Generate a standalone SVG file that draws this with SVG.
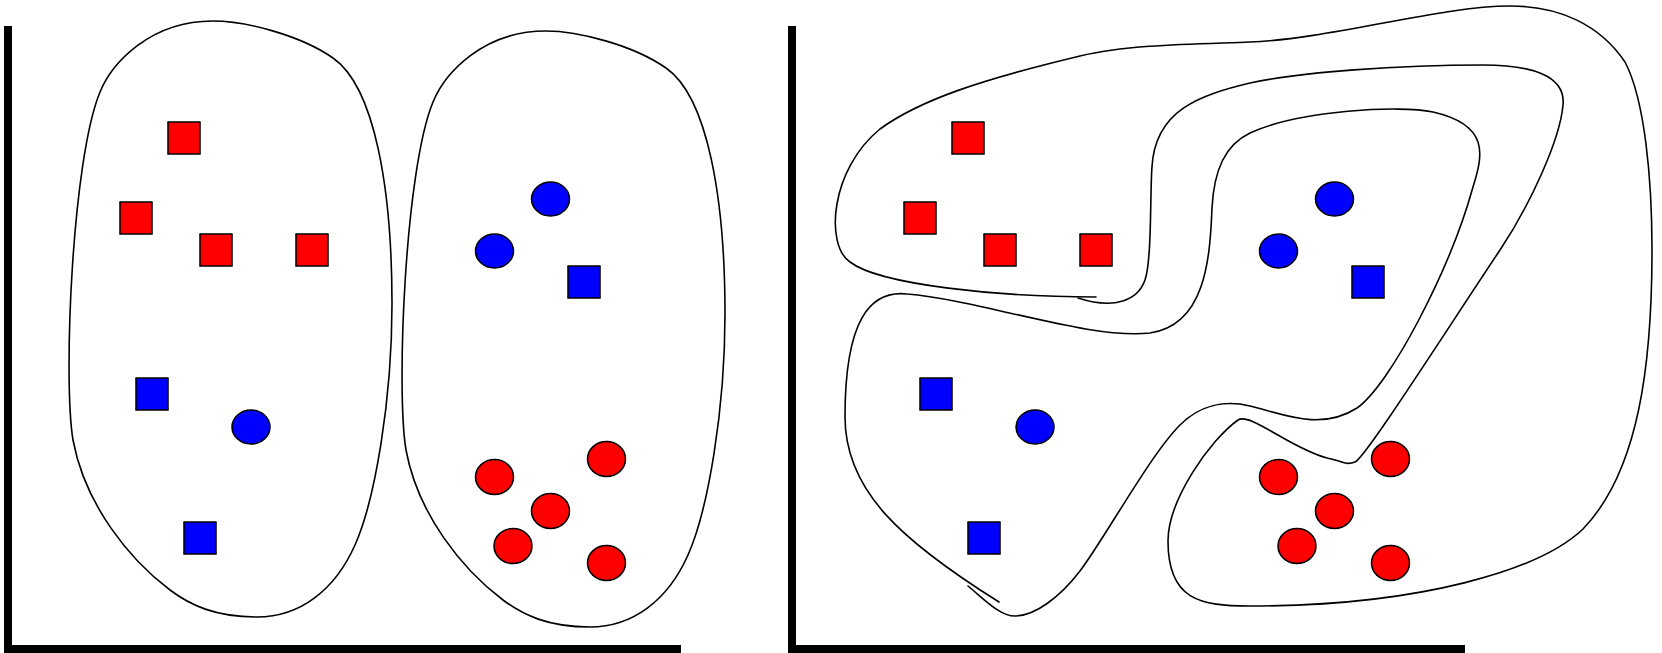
<svg xmlns="http://www.w3.org/2000/svg" width="1662" height="653" viewBox="0 0 1662 653">
<style>
.axis{stroke:#000;stroke-width:8;fill:none}
.curve{stroke:#000;stroke-width:1.6;fill:none;stroke-linecap:round}
.rs{fill:#ff0000;stroke:#000;stroke-width:1.5}
.bs{fill:#0000ff;stroke:#000;stroke-width:1.5}
</style>
<defs>
<path id="blob" d="M 213,21 C 245,21 300,35 333,58 C 375,87 392,190 392,304 C 392,400 375,500 355,545 C 335,590 300,617 257,617 C 215,617 190,605 170,590 C 130,560 85,505 73,440 C 63,380 72,160 100,92 C 112,63 150,21 213,21 Z"/>
<g id="leftset">
<rect class="rs" x="168" y="122" width="32" height="32"/>
<rect class="rs" x="120" y="202" width="32" height="32"/>
<rect class="rs" x="200" y="234" width="32" height="32"/>
<rect class="rs" x="296" y="234" width="32" height="32"/>
<rect class="bs" x="136" y="378" width="32" height="32"/>
<rect class="bs" x="184" y="522" width="32" height="32"/>
<ellipse class="bs" cx="251" cy="427" rx="19" ry="17"/>
</g>
<g id="rightset">
<ellipse class="bs" cx="550.5" cy="199" rx="19" ry="17"/>
<ellipse class="bs" cx="494.5" cy="251" rx="19" ry="17"/>
<rect class="bs" x="568" y="266" width="32" height="32"/>
<ellipse class="rs" cx="606.5" cy="459" rx="19" ry="17.5"/>
<ellipse class="rs" cx="494.5" cy="477" rx="19" ry="17.5"/>
<ellipse class="rs" cx="550.5" cy="511" rx="19" ry="17.5"/>
<ellipse class="rs" cx="513" cy="546" rx="19" ry="17.5"/>
<ellipse class="rs" cx="606.5" cy="563" rx="19" ry="17.5"/>
</g>
</defs>

<g id="panel-left">
<g id="axes-left">
<line class="axis" x1="8" y1="26" x2="8" y2="653"/>
<line class="axis" x1="4" y1="649" x2="681" y2="649"/>
</g>
<g id="cluster-1">
<use href="#blob" class="curve"/>
<use href="#leftset"/>
</g>
<g id="cluster-2">
<use href="#blob" class="curve" transform="translate(333,10)"/>
<use href="#rightset"/>
</g>
</g>

<g id="panel-right">
<g id="axes-right">
<line class="axis" x1="792" y1="26" x2="792" y2="653"/>
<line class="axis" x1="788" y1="649" x2="1465" y2="649"/>
</g>
<g id="points-right" transform="translate(784,0)">
<use href="#leftset"/>
<use href="#rightset"/>
</g>
<g id="connectors">
<path class="curve" d="M 1096,297 C 1000,297 880,285 850,262 C 825,245 830,170 880,129 C 920,100 980,80 1080,56 C 1130,44 1200,44 1250,42 C 1330,39 1440,6 1510,6 C 1560,6 1600,25 1625,62 C 1645,100 1652,180 1652,250 C 1652,360 1640,470 1583,529 C 1540,570 1420,606 1250,606 C 1200,606 1168,600 1168,541 C 1168,500 1210,440 1238,420 C 1250,412 1290,448 1327,458 C 1340,460 1345,466 1355,462 C 1365,458 1440,340 1500,250 C 1530,205 1560,140 1563,105 C 1566,75 1530,65 1483,65 C 1400,65 1300,72 1250,83 C 1200,95 1155,110 1152,167 C 1150,190 1152,260 1145,280 C 1138,300 1115,310 1078,298"/>
<path class="curve" d="M 968,586 C 985,600 1000,616 1015,616 C 1035,616 1060,597 1080,571 C 1105,538 1150,455 1180,425 C 1200,405 1225,400 1250,406 C 1280,413 1320,432 1357,408 C 1390,385 1450,270 1473,187 C 1483,155 1490,125 1433,112 C 1400,105 1300,110 1250,133 C 1225,145 1214,170 1212,208 C 1210,260 1205,325 1150,333 C 1090,340 980,300 907,294 C 870,290 845,320 845,417 C 845,490 900,540 999,602"/>
</g>
</g>
</svg>
